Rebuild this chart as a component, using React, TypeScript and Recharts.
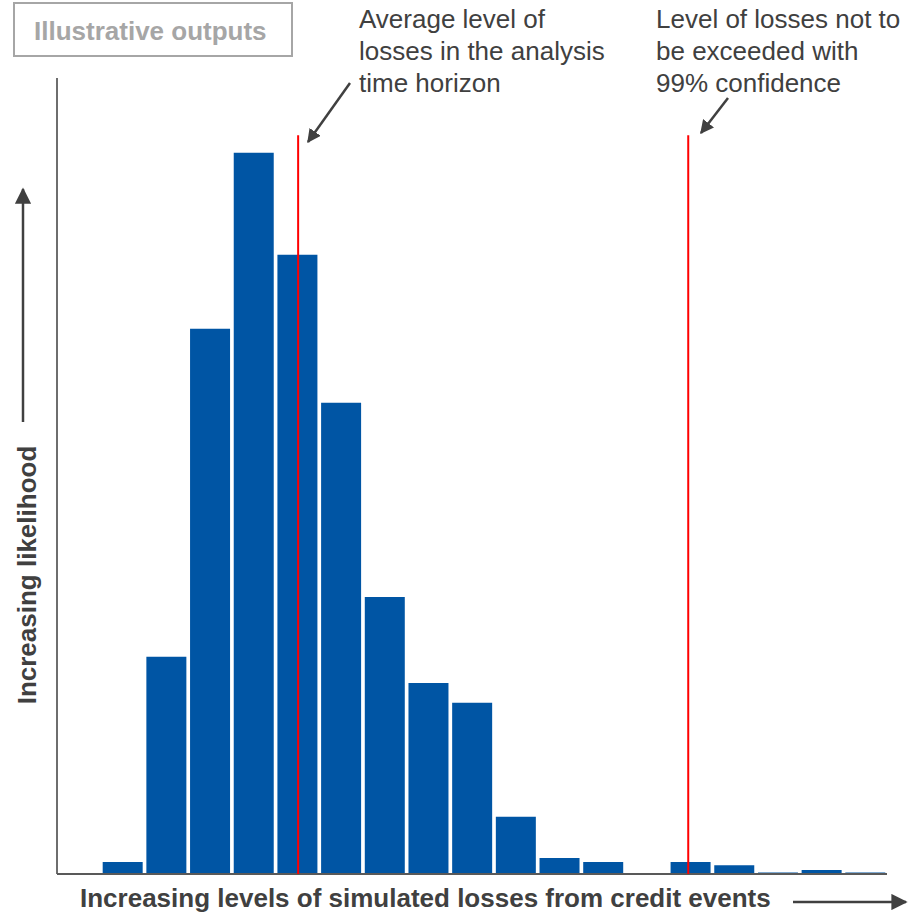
import React from "react";
import { BarChart, Bar, XAxis, YAxis, ReferenceLine } from "recharts";

const bins = [
  "B0", "B1", "B2", "B3", "B4", "B5", "B6", "B7", "B8", "B9",
  "B10", "B11", "B12", "B13", "B14", "B15", "B16", "B17", "B18",
];
const likelihood = [
  0, 1.5, 27.3, 68.5, 90.6, 77.8, 59.2, 34.8, 24.0, 21.5,
  7.2, 2.0, 1.5, 0, 1.5, 1.1, 0.2, 0.5, 0.2,
];
const averageLoss = 5.52;
const var99Loss = 14.45;
const markerTop = 92.8;

const boxLabel = "Illustrative outputs";
const avgNote = ["Average level of", "losses in the analysis", "time horizon"];
const varNote = ["Level of losses not to", "be exceeded with", "99% confidence"];
const xTitle = "Increasing levels of simulated losses from credit events";
const yTitle = "Increasing likelihood";

const data = bins.map((b, i) => ({ bin: b, value: likelihood[i], pos: i + 0.5 }));

const FONT = "'Liberation Sans', Arial, Helvetica, sans-serif";
const DARK = "#404040";

export default function App() {
  return (
    <div style={{ position: "absolute", left: 0, top: 0, width: 920, height: 916, background: "#fff" }}>
      <BarChart
        width={920}
        height={916}
        data={data}
        margin={{ top: 78, left: 57, right: 33, bottom: 42 }}
        barCategoryGap={2}
      >
        <XAxis xAxisId="cat" dataKey="bin" hide />
        <XAxis
          xAxisId="num"
          dataKey="pos"
          type="number"
          domain={[0, 19]}
          hide
          allowDataOverflow
        />
        <YAxis domain={[0, 100]} hide allowDataOverflow />
        <Bar xAxisId="cat" dataKey="value" fill="#0055A4" isAnimationActive={false} />
        <ReferenceLine xAxisId="num" x={0} stroke="#6e6e6e" strokeWidth={2} ifOverflow="visible" />
        <ReferenceLine xAxisId="num" y={0} stroke="#595959" strokeWidth={2} />
        <ReferenceLine
          xAxisId="num"
          segment={[{ x: averageLoss, y: 0 }, { x: averageLoss, y: markerTop }]}
          stroke="#ff0000"
          strokeWidth={2}
        />
        <ReferenceLine
          xAxisId="num"
          segment={[{ x: var99Loss, y: 0 }, { x: var99Loss, y: markerTop }]}
          stroke="#ff0000"
          strokeWidth={2}
        />
      </BarChart>
      <svg
        width={920}
        height={916}
        style={{ position: "absolute", left: 0, top: 0, pointerEvents: "none" }}
      >
        <defs>
          <marker id="ah" viewBox="0 0 10 10" refX="9" refY="5" markerWidth="5.5" markerHeight="5.5" orient="auto">
            <path d="M0,0 L10,5 L0,10 z" fill={DARK} />
          </marker>
          <marker id="ahb" viewBox="0 0 10 10" refX="9" refY="5" markerWidth="6.5" markerHeight="6.5" orient="auto">
            <path d="M0,0 L10,5 L0,10 z" fill={DARK} />
          </marker>
        </defs>
        <rect x={14} y={3} width={278} height={53} fill="#fff" stroke="#a6a6a6" strokeWidth={2} />
        <text x={34} y={40} fontFamily={FONT} fontSize={26} fontWeight="bold" fill="#a6a6a6">
          {boxLabel}
        </text>
        {avgNote.map((t, i) => (
          <text key={"a" + i} x={359} y={28 + i * 32} fontFamily={FONT} fontSize={26} fill={DARK}>
            {t}
          </text>
        ))}
        {varNote.map((t, i) => (
          <text key={"v" + i} x={656} y={28 + i * 32} fontFamily={FONT} fontSize={26} fill={DARK}>
            {t}
          </text>
        ))}
        <line x1={350} y1={83} x2={308} y2={142} stroke={DARK} strokeWidth={2.5} markerEnd="url(#ah)" />
        <line x1={728} y1={98} x2={701} y2={133} stroke={DARK} strokeWidth={2.5} markerEnd="url(#ah)" />
        <text x={80} y={907} fontFamily={FONT} fontSize={26} fontWeight="bold" fill={DARK}>
          {xTitle}
        </text>
        <line x1={793} y1={902} x2={906} y2={902} stroke={DARK} strokeWidth={2.5} markerEnd="url(#ahb)" />
        <text
          x={36}
          y={575}
          transform="rotate(-90 36 575)"
          textAnchor="middle"
          fontFamily={FONT}
          fontSize={26}
          fontWeight="bold"
          fill={DARK}
        >
          {yTitle}
        </text>
        <line x1={23} y1={422} x2={23} y2={189} stroke={DARK} strokeWidth={2.5} markerEnd="url(#ahb)" />
      </svg>
    </div>
  );
}
